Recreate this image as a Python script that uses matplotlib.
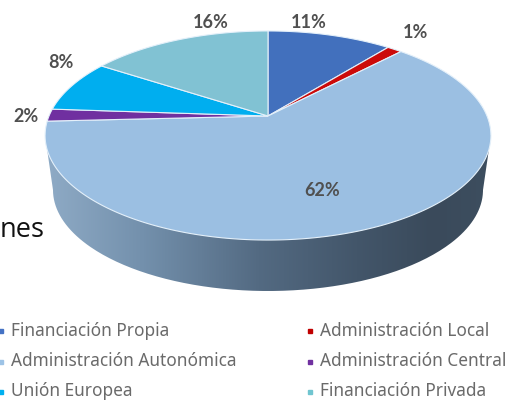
import numpy as np
import matplotlib
matplotlib.use("Agg")
import matplotlib.pyplot as plt
from matplotlib.colors import LinearSegmentedColormap
from matplotlib.patches import Polygon
from matplotlib.path import Path
from matplotlib.transforms import Affine2D

categories = ["Financiación Propia", "Administración Local", "Administración Autonómica",
              "Administración Central", "Unión Europea", "Financiación Privada"]
values = [10.8, 1.3, 62.1, 1.9, 8.1, 15.8]
labels = ["11%", "1%", "62%", "2%", "8%", "16%"]
colors = ["#4270bd", "#cc0a0a", "#9bbfe2", "#7030a0", "#00aeef", "#81c2d3"]
legend_colors = ["#4472c4", "#c00000", "#9dc3e6", "#7030a0", "#00b0f0", "#70c5d0"]

label_pos = [(309, 23), (416, 32), (322, 190), (26, 116), (61, 63), (211, 22)]
legend_pos = [(1, 331), (310, 331), (1, 362), (310, 362), (1, 392), (310, 392)]

# pie seen in perspective, top face in image pixels
CX, CY = 268, 116
TILT = 0.1866
SCALE_X = 219
SCALE_Y = 100.9


def perspective(pts):
    x, y = pts[:, 0], pts[:, 1]
    d = 1 + TILT * y
    return np.column_stack([CX + SCALE_X * x / d, CY - SCALE_Y * y / d])


fig = plt.figure(figsize=(5.10, 4.01), dpi=100)
ax = fig.add_axes([0, 0, 1, 1])

wedges, _ = ax.pie(values, startangle=90, counterclock=False, radius=1, center=(0, 0))
faces = []
for w, c in zip(wedges, colors):
    # flatten the curves at a big scale so the arc stays smooth
    poly = w.get_path().transformed(Affine2D().scale(2000)).to_polygons()[0] / 2000
    w.remove()
    faces.append(Polygon(perspective(poly), closed=True, facecolor=c,
                         edgecolor="#e4f0fa", linewidth=0.8, zorder=3))

# side of the pie
t = np.linspace(np.pi, 2 * np.pi, 200)
rim = np.column_stack([268 + 215 * np.cos(t), 190 - 101 * np.sin(t)])
side = np.vstack([[(45, 135)], rim, [(491, 135)]])
side_cmap = LinearSegmentedColormap.from_list("side", [
    (0.0, "#8fabc6"), (0.22, "#7390ac"), (0.48, "#536a82"),
    (0.7, "#43566a"), (0.87, "#3a4a5b"), (1.0, "#3d4e5f")])
im = ax.imshow(np.linspace(0, 1, 256).reshape(1, -1), cmap=side_cmap,
               extent=(45, 491, 295, 130), aspect="auto", zorder=1)
im.set_clip_path(Path(side), ax.transData)

for f in faces:
    ax.add_patch(f)

for txt, (x, y) in zip(labels, label_pos):
    ax.text(x, y, txt, ha="center", va="center", fontsize=13, fontweight="bold",
            family="Lato", color="#505050", zorder=4)

for name, c, (x, y) in zip(categories, legend_colors, legend_pos):
    ax.plot([x], [y], marker="s", markersize=3.4, color=c, linestyle="none",
            clip_on=True, zorder=4)
    ax.text(x + 10, y - 0.5, name, ha="left", va="center", fontsize=12.4, family="Noto Sans",
            color="#6a6a6a", zorder=4)

ax.text(0, 230, "nes", ha="left", va="center", fontsize=19.5, family="Open Sans",
        color="#111111", zorder=4)

ax.set_aspect("auto")
ax.set_xlim(0, 510)
ax.set_ylim(401, 0)
ax.axis("off")

fig.savefig("out.png", dpi=100, facecolor="white")
